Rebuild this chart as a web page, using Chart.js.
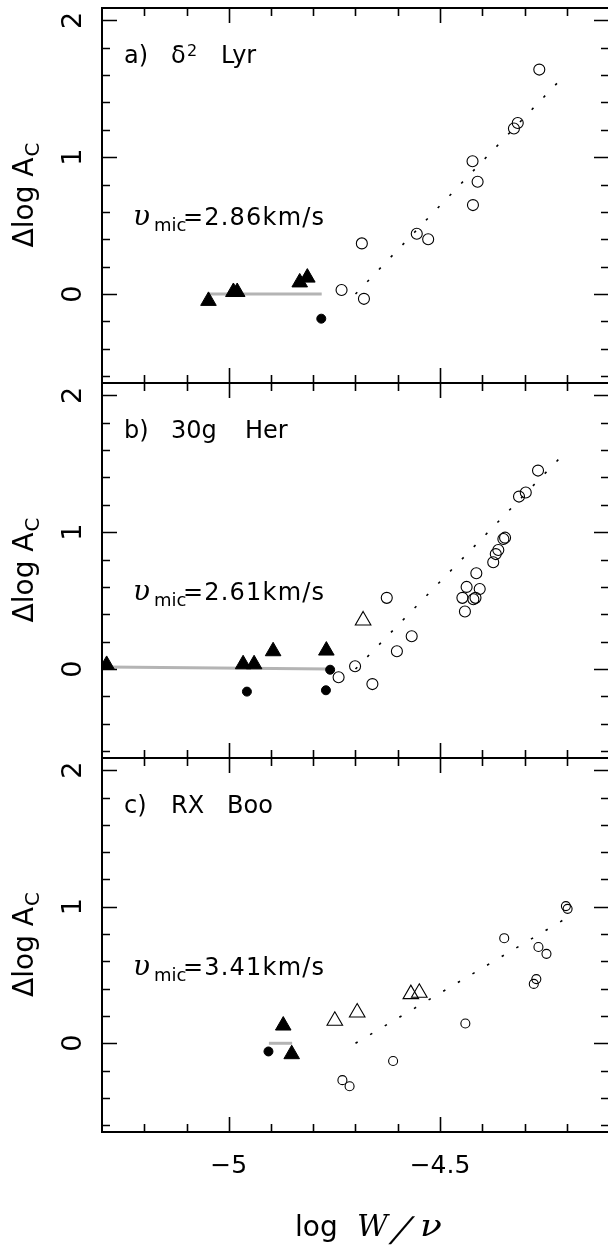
<!DOCTYPE html>
<html>
<head>
<meta charset="utf-8">
<script src="https://cdn.jsdelivr.net/npm/chart.js@4.4.1/dist/chart.umd.min.js"></script>
<style>
  html, body { margin: 0; padding: 0; background: #fff; overflow: hidden; }
  #wrap { position: relative; width: 608px; height: 1245px; overflow: hidden; background: #fff; }
  canvas { position: absolute; left: 0; }
</style>
</head>
<body>
<div id="wrap">
  <canvas id="panelA" width="620" height="390" style="top:0px"></canvas>
  <canvas id="panelB" width="620" height="390" style="top:376px"></canvas>
  <canvas id="panelC" width="620" height="495" style="top:750px"></canvas>
</div>
<script>
// axis ranges and ticks
const xRange = [-5.3, -4.1];
const yRange = [-0.65, 2.09];
const xMajorTicks = [-5, -4.5];
const xTickLabels = ["\u22125", "\u22124.5"];
const xMinorTicks = [-5.2, -5.1, -4.9, -4.8, -4.7, -4.6, -4.4, -4.3, -4.2];
const yMajorTicks = [0, 1, 2];
const yTickLabels = ["0", "1", "2"];
const yMinorTicks = [-0.6, -0.4, -0.2, 0.2, 0.4, 0.6, 0.8, 1.2, 1.4, 1.6, 1.8];

// a) delta2 Lyr
const lyrVmic = "2.86";
const lyrOpenCircles = [[-4.265, 1.64], [-4.316, 1.25], [-4.325, 1.21], [-4.423, 0.97], [-4.411, 0.82],
  [-4.422, 0.65], [-4.555, 0.44], [-4.528, 0.40], [-4.685, 0.37], [-4.733, 0.03], [-4.680, -0.035]];
const lyrFilledCircles = [[-4.781, -0.18]];
const lyrFilledTriangles = [[-5.048, -0.05], [-4.989, 0.015], [-4.980, 0.015], [-4.832, 0.085], [-4.814, 0.12]];
const lyrGreyLine = [[-5.048, 0], [-4.780, 0]];
const lyrFitLine = [[-4.70, 0.0], [-4.22, 1.55]];

// b) 30g Her
const herVmic = "2.61";
const herOpenCircles = [[-4.268, 1.45], [-4.297, 1.29], [-4.313, 1.26], [-4.350, 0.95], [-4.346, 0.96],
  [-4.362, 0.87], [-4.368, 0.84], [-4.374, 0.78], [-4.414, 0.70], [-4.437, 0.60], [-4.406, 0.585],
  [-4.447, 0.52], [-4.421, 0.51], [-4.416, 0.52], [-4.441, 0.42], [-4.626, 0.52], [-4.567, 0.24],
  [-4.602, 0.13], [-4.701, 0.02], [-4.740, -0.06], [-4.660, -0.11]];
const herOpenTriangles = [[-4.682, 0.355]];
const herFilledTriangles = [[-5.289, 0.03], [-4.966, 0.035], [-4.940, 0.035], [-4.895, 0.13], [-4.769, 0.135]];
const herFilledCircles = [[-4.760, -0.005], [-4.957, -0.165], [-4.770, -0.155]];
const herGreyLine = [[-5.29, 0.015], [-4.76, 0.0]];
const herFitLine = [[-4.70, 0.0], [-4.22, 1.53]];

// c) RX Boo
const booVmic = "3.41";
const booOpenCircles = [[-4.202, 1.005], [-4.198, 0.985], [-4.348, 0.77], [-4.267, 0.705], [-4.248, 0.655],
  [-4.272, 0.47], [-4.278, 0.435], [-4.440, 0.145], [-4.611, -0.13], [-4.731, -0.27], [-4.714, -0.315]];
const booOpenTriangles = [[-4.749, 0.165], [-4.696, 0.225], [-4.569, 0.36], [-4.549, 0.37]];
const booFilledTriangles = [[-4.871, 0.13], [-4.851, -0.08]];
const booFilledCircles = [[-4.906, -0.06]];
const booGreyLine = [[-4.905, 0], [-4.850, 0]];
const booFitLine = [[-4.70, 0.0], [-4.21, 0.90]];

const pts = arr => arr.map(p => ({ x: p[0], y: p[1] }));
const SANS = '"DejaVu Sans", sans-serif';
const SERIF = '"DejaVu Serif", serif';

function drawText(ctx, s, x, y, font, spacing, stretch, skew) {
  ctx.save();
  ctx.font = font;
  ctx.letterSpacing = (spacing || 0) + 'px';
  ctx.translate(x, y);
  if (stretch) ctx.scale(stretch, 1);
  if (skew) ctx.transform(1, 0, -skew, 1, 0, 0);
  ctx.fillText(s, 0, 0);
  ctx.restore();
}

const framePlugin = {
  id: 'frame',
  afterDraw(chart, args, opts) {
    const { ctx, chartArea: a } = chart;
    const sx = chart.scales.x, sy = chart.scales.y;
    ctx.save();
    ctx.strokeStyle = '#000';
    ctx.fillStyle = '#000';
    ctx.lineWidth = 2;
    ctx.strokeRect(a.left, a.top, a.right - a.left, a.bottom - a.top);

    // inward ticks on all four sides
    ctx.lineWidth = 1.6;
    ctx.beginPath();
    const xt = (v, len) => {
      const px = Math.round(sx.getPixelForValue(v)) + 0.5;
      ctx.moveTo(px, a.bottom); ctx.lineTo(px, a.bottom - len);
      ctx.moveTo(px, a.top); ctx.lineTo(px, a.top + len);
    };
    const yt = (v, len) => {
      const py = Math.round(sy.getPixelForValue(v)) + 0.5;
      ctx.moveTo(a.left, py); ctx.lineTo(a.left + len, py);
      ctx.moveTo(a.right, py); ctx.lineTo(a.right - len, py);
    };
    xMajorTicks.forEach(v => xt(v, 15));
    xMinorTicks.forEach(v => xt(v, 8));
    yMajorTicks.forEach(v => yt(v, 15));
    yMinorTicks.forEach(v => yt(v, 8));
    ctx.stroke();

    // y tick labels, rotated
    ctx.textAlign = 'center';
    ctx.textBaseline = 'alphabetic';
    yMajorTicks.forEach((v, i) => {
      const py = sy.getPixelForValue(v);
      ctx.save();
      ctx.translate(81, py);
      ctx.rotate(-Math.PI / 2);
      drawText(ctx, yTickLabels[i], 0, 0, '27px ' + SANS);
      ctx.restore();
    });

    // y title
    ctx.save();
    const midY = (a.top + a.bottom) / 2;
    ctx.translate(33, midY);
    ctx.rotate(-Math.PI / 2);
    ctx.textAlign = 'left';
    ctx.font = '28px ' + SANS;
    const main = '\u0394log A';
    const w1 = ctx.measureText(main).width;
    ctx.font = '20px ' + SANS;
    const w2 = ctx.measureText('C').width;
    const x0 = -(w1 + w2) / 2;
    drawText(ctx, main, x0, 0, '28px ' + SANS);
    drawText(ctx, 'C', x0 + w1 + 1, 6, '20px ' + SANS);
    ctx.restore();

    // panel label
    ctx.textAlign = 'left';
    opts.label.forEach(p => {
      if (p.sup) drawText(ctx, p.t, p.x, a.top + 48, '16px ' + SANS);
      else drawText(ctx, p.t, p.x, a.top + 55, '24px ' + SANS);
    });

    // v_mic
    const by = a.top + 217;
    drawText(ctx, '\u03c5', 133, by, 'italic 28px ' + SERIF);
    drawText(ctx, 'mic', 154, by + 6, '18px ' + SANS);
    drawText(ctx, '=' + opts.vmic + 'km/s', 183, by, '24px ' + SANS, 1.2);

    // x axis labels on the bottom panel
    if (opts.xlabels) {
      ctx.textAlign = 'center';
      xMajorTicks.forEach((v, i) => {
        drawText(ctx, xTickLabels[i], sx.getPixelForValue(v), a.bottom + 41, '25px ' + SANS);
      });
      ctx.textAlign = 'left';
      const ty = a.bottom + 104;
      drawText(ctx, 'log', 295, ty, '28px ' + SANS);
      drawText(ctx, 'W', 357, ty, 'italic 30px ' + SERIF);
      drawText(ctx, '/', 390, ty + 5, '34px ' + SANS, 0, 0, 0.55);
      drawText(ctx, '\u03bd', 420, ty, 'italic 30px ' + SERIF, 0, 1.2);
    }
    ctx.restore();
  }
};

function makePanel(id, pad, series, plug) {
  const ds = [];
  if (series.openCircles) ds.push({ data: pts(series.openCircles), pointStyle: 'circle', pointRadius: series.r || 5.5,
    backgroundColor: 'rgba(0,0,0,0)', borderColor: '#000', borderWidth: 1.1 });
  if (series.openTriangles) ds.push({ data: pts(series.openTriangles), pointStyle: 'triangle', pointRadius: 9,
    backgroundColor: 'rgba(0,0,0,0)', borderColor: '#000', borderWidth: 1.1 });
  if (series.filledCircles) ds.push({ data: pts(series.filledCircles), pointStyle: 'circle', pointRadius: 4.5,
    backgroundColor: '#000', borderColor: '#000', borderWidth: 1 });
  if (series.filledTriangles) ds.push({ data: pts(series.filledTriangles), pointStyle: 'triangle', pointRadius: 9,
    backgroundColor: '#000', borderColor: '#000', borderWidth: 1 });
  ds.push({ data: pts(series.grey), showLine: true, pointRadius: 0, borderColor: '#b4b4b4', borderWidth: 3, order: 10 });
  ds.push({ data: pts(series.fit), showLine: true, pointRadius: 0, borderColor: '#000', borderWidth: 1.6,
    borderDash: [2.5, 14.5], order: 10 });

  return new Chart(document.getElementById(id), {
    type: 'scatter',
    data: { datasets: ds },
    options: {
      responsive: false,
      animation: false,
      events: [],
      layout: { padding: pad, autoPadding: false },
      plugins: { legend: { display: false }, tooltip: { enabled: false }, frame: plug },
      scales: {
        x: { type: 'linear', min: xRange[0], max: xRange[1], display: false },
        y: { type: 'linear', min: yRange[0], max: yRange[1], display: false }
      }
    },
    plugins: [framePlugin]
  });
}

makePanel('panelA', { left: 102, right: 11, top: 8, bottom: 7 },
  { openCircles: lyrOpenCircles, filledCircles: lyrFilledCircles, filledTriangles: lyrFilledTriangles,
    grey: lyrGreyLine, fit: lyrFitLine },
  { vmic: lyrVmic, label: [{ t: 'a)', x: 124 }, { t: '\u03b4', x: 171 }, { t: '2', x: 187, sup: true }, { t: 'Lyr', x: 221 }] });

makePanel('panelB', { left: 102, right: 11, top: 7, bottom: 8 },
  { openCircles: herOpenCircles, openTriangles: herOpenTriangles, filledCircles: herFilledCircles,
    filledTriangles: herFilledTriangles, grey: herGreyLine, fit: herFitLine },
  { vmic: herVmic, label: [{ t: 'b)', x: 124 }, { t: '30g', x: 171 }, { t: 'Her', x: 245 }] });

makePanel('panelC', { left: 102, right: 11, top: 8, bottom: 113 },
  { openCircles: booOpenCircles, r: 4.5, openTriangles: booOpenTriangles, filledCircles: booFilledCircles,
    filledTriangles: booFilledTriangles, grey: booGreyLine, fit: booFitLine },
  { vmic: booVmic, xlabels: true, label: [{ t: 'c)', x: 124 }, { t: 'RX', x: 171 }, { t: 'Boo', x: 227 }] });
</script>
</body>
</html>
